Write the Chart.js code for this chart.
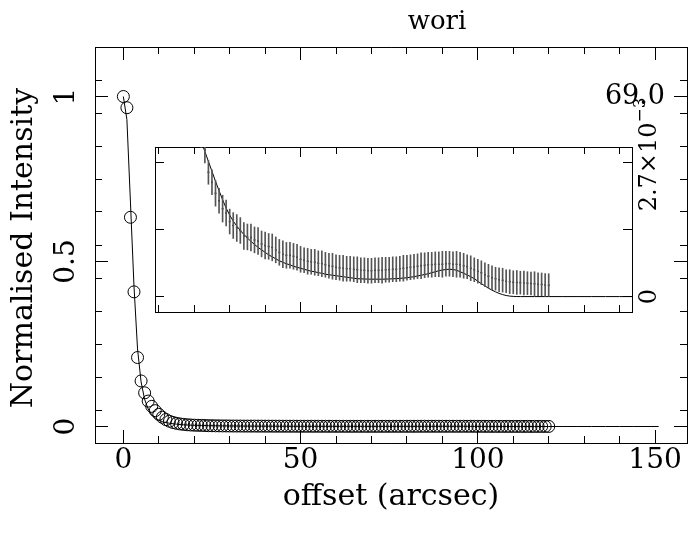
<!DOCTYPE html>
<html>
<head>
<meta charset="utf-8">
<script src="https://cdn.jsdelivr.net/npm/chart.js@4.4.0/dist/chart.umd.min.js"></script>
<style>
  body { margin: 0; background: #fff; }
  #wrap { position: relative; width: 697px; height: 542px; }
  canvas { position: absolute; left: 0; top: 0; }
</style>
</head>
<body>
<div id="wrap">
  <canvas id="main" width="697" height="542"></canvas>
  <canvas id="inset" width="697" height="542"></canvas>
</div>
<script>
const plotTitle = 'wori'
const cornerLabel = '69.0'
const xTitle = 'offset (arcsec)'
const yTitle = 'Normalised Intensity'
const insetTopLabel = '2.7×10'
const insetTopExp = '−3'

// observed radial profile (normalised), one point per arcsec
const obsOffset = [
  0,1,2,3,4,5,6,7,8,9,
  10,11,12,13,14,15,16,17,18,19,
  20,21,22,23,24,25,26,27,28,29,
  30,31,32,33,34,35,36,37,38,39,
  40,41,42,43,44,45,46,47,48,49,
  50,51,52,53,54,55,56,57,58,59,
  60,61,62,63,64,65,66,67,68,69,
  70,71,72,73,74,75,76,77,78,79,
  80,81,82,83,84,85,86,87,88,89,
  90,91,92,93,94,95,96,97,98,99,
  100,101,102,103,104,105,106,107,108,109,
  110,111,112,113,114,115,116,117,118,119,
  120
]
const obsValue = [
  1.000,0.966,0.634,0.408,0.209,0.138,0.102,0.077,0.061,0.048,
  0.037,0.028,0.021,0.016,0.0122,0.0096,0.0077,0.0063,0.0053,0.0045,
  0.0040,0.0036,0.0033,0.00295,0.00250,0.00230,0.00208,0.00193,0.00177,0.00168,
  0.00151,0.00143,0.00138,0.00133,0.00122,0.00120,0.00119,0.00114,0.00112,0.00106,
  0.00103,0.00101,0.00099,0.00094,0.00089,0.00085,0.00083,0.00083,0.00081,0.00079,
  0.00075,0.00073,0.00071,0.00070,0.00069,0.00067,0.00066,0.00064,0.00062,0.00061,
  0.00059,0.00058,0.00057,0.00056,0.00056,0.00055,0.00054,0.00053,0.00053,0.00052,
  0.00052,0.00053,0.00053,0.00053,0.00054,0.00054,0.00055,0.00055,0.00056,0.00057,
  0.00058,0.00059,0.00060,0.00061,0.00062,0.00063,0.00064,0.00064,0.00065,0.00065,
  0.00065,0.00066,0.00066,0.00065,0.00065,0.00064,0.00062,0.00060,0.00057,0.00054,
  0.00051,0.00048,0.00044,0.00041,0.00038,0.00036,0.00034,0.00033,0.00031,0.00030,
  0.00029,0.000285,0.00028,0.000275,0.00027,0.000265,0.00026,0.00025,0.000245,0.000235,
  0.00023
]
const obsError = [
  0.0003,0.0003,0.0003,0.0003,0.0003,0.0003,0.0003,0.0003,0.0003,0.0003,
  0.0003,0.0003,0.0003,0.0003,0.0003,0.0003,0.0003,0.0003,0.0003,0.0003,
  0.0003,0.0003,0.0003,0.00026,0.00024,0.00025,0.00026,0.00025,0.00027,0.00026,
  0.00025,0.00026,0.00027,0.00026,0.00027,0.00026,0.00027,0.00026,0.00027,0.00026,
  0.00027,0.00026,0.00027,0.00026,0.00026,0.00027,0.00026,0.00026,0.00026,0.00026,
  0.00026,0.00025,0.00026,0.00025,0.00026,0.00025,0.00026,0.00025,0.00025,0.00026,
  0.00025,0.00025,0.00026,0.00025,0.00025,0.00025,0.00026,0.00025,0.00025,0.00025,
  0.00025,0.00025,0.00025,0.00026,0.00025,0.00025,0.00025,0.00025,0.00025,0.00026,
  0.00025,0.00025,0.00025,0.00025,0.00026,0.00025,0.00025,0.00025,0.00025,0.00025,
  0.00026,0.00025,0.00025,0.00025,0.00026,0.00025,0.00025,0.00024,0.00025,0.00024,
  0.00024,0.00024,0.00024,0.00024,0.00024,0.00023,0.00024,0.00024,0.00023,0.00024,
  0.00023,0.00024,0.00023,0.00024,0.00023,0.00023,0.00024,0.00023,0.00023,0.00023,
  0.00023
]

// model profile
const modelOffset = [
  0,1,2,3,4,5,6,7,8,9,
  10,11,12,13,14,15,16,17,18,19,
  20,21,22,23,24,25,26,27,28,29,
  30,31,32,33,34,35,36,37,38,39,
  40,41,42,43,44,45,46,47,48,49,
  50,51,52,53,54,55,56,57,58,59,
  60,61,62,63,64,65,66,67,68,69,
  70,71,72,73,74,75,76,77,78,79,
  80,81,82,83,84,85,86,87,88,89,
  90,91,92,93,94,95,96,97,98,99,
  100,101,102,103,104,105,106,107,108,109,
  110,111,112,116,120,124,128,132,136,140,
  144,148,151
]
const modelValue = [
  1.000,0.930,0.680,0.425,0.235,0.135,0.082,0.053,0.036,0.026,
  0.0190,0.0148,0.0120,0.0099,0.0083,0.0070,0.0060,0.0052,0.0046,0.0041,
  0.00370,0.00340,0.00312,0.00292,0.00272,0.00252,0.00232,0.00213,0.00195,0.00178,
  0.00164,0.00152,0.00142,0.00133,0.00125,0.00118,0.00111,0.00105,0.00099,0.00094,
  0.00089,0.00084,0.00080,0.00076,0.00072,0.00069,0.00066,0.00064,0.00061,0.00059,
  0.00057,0.00055,0.00053,0.00051,0.00050,0.00048,0.00047,0.00045,0.00044,0.00043,
  0.00042,0.00041,0.00040,0.00039,0.00038,0.00037,0.00036,0.000357,0.000354,0.000352,
  0.00035,0.00035,0.00035,0.00035,0.000352,0.000355,0.000358,0.000362,0.000367,0.000372,
  0.00038,0.00039,0.00040,0.000415,0.00043,0.000445,0.00046,0.00048,0.00050,0.00052,
  0.000535,0.000545,0.00055,0.000545,0.00053,0.00050,0.00047,0.000435,0.00040,0.00036,
  0.00031,0.00026,0.000215,0.00017,0.00013,0.000095,0.000065,0.00004,0.000022,0.00001,
  0.000004,0.000001,0,0,0,0,0,0,0,0,
  0,0,0
]

// axis ranges
const xRange = [-8, 159]
const yRange = [-0.05, 1.15]
const insetX = [8.93, 143.5]
const insetY = [-0.00031, 0.00301]
const insetStep = 0.00135

const FONT = '"DejaVu Serif", serif'

function edgeAxis(pos, range, step, len, extra, size) {
  return Object.assign({
    type: 'linear', position: pos, min: range[0], max: range[1], offset: false,
    grid: { drawOnChartArea: false, drawTicks: true, tickLength: -len, color: '#000', lineWidth: 1, offset: false },
    border: { display: true, color: '#000', width: 1 },
    ticks: { display: false, stepSize: step, includeBounds: false, autoSkip: false },
    afterFit: s => { if (s.isHorizontal()) s.height = size || 0; else s.width = size || 0 }
  }, extra || {})
}

function rotText(ctx, txt, x, y) {
  ctx.save()
  ctx.translate(x, y)
  ctx.rotate(-Math.PI / 2)
  ctx.textAlign = 'center'
  ctx.textBaseline = 'middle'
  ctx.fillText(txt, 0, 0)
  ctx.restore()
}

const mainText = {
  id: 'mainText',
  afterDraw(chart) {
    const ctx = chart.ctx
    const a = chart.chartArea
    const yS = chart.scales.yMaj
    ctx.save()
    ctx.fillStyle = '#000'
    ctx.font = '28px ' + FONT
    yS.ticks.forEach(t => rotText(ctx, String(t.value), a.left - 28, yS.getPixelForValue(t.value)))
    ctx.font = '30px ' + FONT
    rotText(ctx, yTitle, a.left - 71, (a.top + a.bottom) / 2 + 3)
    ctx.textAlign = 'center'
    ctx.textBaseline = 'middle'
    ctx.fillText(xTitle, (a.left + a.right) / 2, a.bottom + 54)
    ctx.font = '26px ' + FONT
    ctx.fillText(plotTitle, (a.left + a.right) / 2 + 46, a.top - 25)
    ctx.textAlign = 'right'
    ctx.font = '27px ' + FONT
    ctx.fillText(cornerLabel, a.right - 22, yS.getPixelForValue(1))
    ctx.restore()
  }
}

const insetText = {
  id: 'insetText',
  beforeDraw(chart) {
    const ctx = chart.ctx, a = chart.chartArea
    ctx.save()
    ctx.fillStyle = '#fff'
    ctx.fillRect(a.left, a.top, a.right - a.left, a.bottom - a.top)
    ctx.restore()
  },
  afterDraw(chart) {
    const ctx = chart.ctx, a = chart.chartArea
    const yS = chart.scales.yi
    const x = a.right + 18
    ctx.save()
    ctx.fillStyle = '#000'
    ctx.font = '24px ' + FONT
    rotText(ctx, '0', x, yS.getPixelForValue(0))
    // 2.7x10^-3, rotated, exponent raised
    ctx.translate(x, yS.getPixelForValue(2 * insetStep) - 8)
    ctx.rotate(-Math.PI / 2)
    ctx.textBaseline = 'middle'
    ctx.textAlign = 'left'
    const w1 = ctx.measureText(insetTopLabel).width
    ctx.font = '17px ' + FONT
    const w2 = ctx.measureText(insetTopExp).width
    const start = -(w1 + w2) / 2
    ctx.fillText(insetTopExp, start + w1, -9)
    ctx.font = '24px ' + FONT
    ctx.fillText(insetTopLabel, start, 0)
    ctx.restore()
  }
}

const circles = obsOffset.map((x, i) => ({ x: x, y: obsValue[i] }))
const model = modelOffset.map((x, i) => ({ x: x, y: modelValue[i] }))
const errBars = obsOffset.map((x, i) => ({ x: x, y: [obsValue[i] - obsError[i], obsValue[i] + obsError[i]] }))

new Chart(document.getElementById('main'), {
  type: 'scatter',
  data: {
    datasets: [
      {
        data: circles, showLine: false,
        pointStyle: 'circle', pointRadius: 6, pointBorderWidth: 1,
        pointBorderColor: '#000', pointBackgroundColor: 'rgba(0,0,0,0)',
        xAxisID: 'x', yAxisID: 'y'
      },
      {
        type: 'line', data: model, borderColor: '#000', borderWidth: 1,
        pointRadius: 0, tension: 0, fill: false,
        xAxisID: 'x', yAxisID: 'y'
      }
    ]
  },
  options: {
    responsive: false, animation: false, devicePixelRatio: 1,
    layout: { autoPadding: false, padding: { left: 95, top: 47, right: 10, bottom: 39 } },
    plugins: { legend: { display: false }, tooltip: { enabled: false } },
    scales: {
      x: edgeAxis('bottom', xRange, 10, 7, { weight: 0 }),
      xMaj: edgeAxis('bottom', xRange, 50, 13, {
        weight: 1,
        ticks: {
          display: true, stepSize: 50, includeBounds: false, autoSkip: false,
          maxRotation: 0, minRotation: 0, padding: 14, color: '#000',
          font: { family: FONT, size: 28 }
        }
      }, 60),
      xTop: edgeAxis('top', xRange, 10, 7),
      xTopMaj: edgeAxis('top', xRange, 50, 13),
      y: edgeAxis('left', yRange, 0.1, 7),
      yMaj: edgeAxis('left', yRange, 0.5, 13),
      yR: edgeAxis('right', yRange, 0.1, 7),
      yRMaj: edgeAxis('right', yRange, 0.5, 13)
    }
  },
  plugins: [mainText]
})

new Chart(document.getElementById('inset'), {
  type: 'scatter',
  data: {
    datasets: [
      {
        type: 'bar', data: errBars, barThickness: 1,
        backgroundColor: '#555', borderWidth: 0, clip: 0,
        xAxisID: 'xi', yAxisID: 'yi'
      },
      {
        data: circles, showLine: false, pointRadius: 1,
        pointBorderWidth: 0, pointBackgroundColor: '#000', clip: 0,
        xAxisID: 'xi', yAxisID: 'yi'
      },
      {
        type: 'line', data: model, borderColor: '#000', borderWidth: 1,
        pointRadius: 0, tension: 0, fill: false, clip: 0,
        xAxisID: 'xi', yAxisID: 'yi'
      }
    ]
  },
  options: {
    responsive: false, animation: false, devicePixelRatio: 1,
    layout: { autoPadding: false, padding: { left: 155, top: 147, right: 65, bottom: 230 } },
    plugins: { legend: { display: false }, tooltip: { enabled: false } },
    scales: {
      xi: edgeAxis('bottom', insetX, 10, 7),
      xiMaj: edgeAxis('bottom', insetX, 50, 10),
      xiTop: edgeAxis('top', insetX, 10, 7),
      xiTopMaj: edgeAxis('top', insetX, 50, 10),
      yi: edgeAxis('left', insetY, insetStep, 9),
      yiR: edgeAxis('right', insetY, insetStep, 9)
    }
  },
  plugins: [insetText]
})
</script>
</body>
</html>
